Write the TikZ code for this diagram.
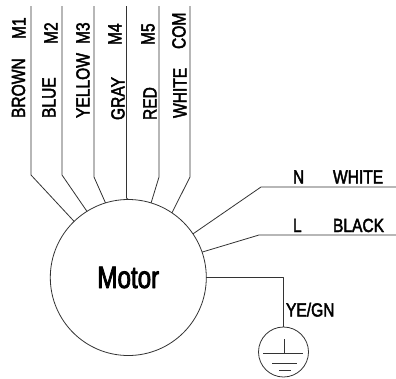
\documentclass[tikz,border=0pt]{standalone}
\usepackage{fontspec}
\setmainfont{Liberation Sans}
\newfontfamily\lblfont[FakeStretch=0.82,FakeBold=2.2]{Liberation Sans}
\newfontfamily\mtrfont[FakeStretch=0.78,FakeBold=2.5]{Liberation Sans}
\tikzset{
  wire/.style={draw=black!80,line width=0.8pt,line join=round},
  lbl/.style={inner sep=0pt,outer sep=0pt,font=\lblfont\fontsize{19}{19}\selectfont,text=black},
  vlbl/.style={lbl,rotate=90,anchor=base west},
  hlbl/.style={lbl,anchor=base west},
  motorbody/.style={circle,wire,inner sep=0pt,outer sep=0pt,minimum size=156pt,font=\mtrfont\fontsize{31}{31}\selectfont},
  earthbody/.style={circle,wire,inner sep=0pt,outer sep=0pt,minimum size=50pt}
}
\begin{document}
\begin{tikzpicture}[x=1pt,y=-1pt]
\useasboundingbox[fill=white] (0,0) rectangle (396,378);
\node[motorbody] (motor) at (128.3,277.5) {Motor};
\node[earthbody] (earth) at (283.5,352) {};
% top wires
\coordinate (t1) at (31,6);   \coordinate (k1) at (31,175);
\coordinate (t2) at (62,6);   \coordinate (k2) at (62,175);
\coordinate (t3) at (94,6);   \coordinate (k3) at (94,177);
\coordinate (t4) at (126.5,6);\coordinate (k4) at (126.5,198);
\coordinate (t5) at (159,6);  \coordinate (k5) at (159,177);
\coordinate (t6) at (190,6);  \coordinate (k6) at (190,177);
\draw[wire] (t1) -- (k1) -- (motor.134);
\draw[wire] (t2) -- (k2) -- (motor.122);
\draw[wire] (t3) -- (k3) -- (motor.107);
\draw[wire] (t4) -- (k4) -- (motor.90);
\draw[wire] (t5) -- (k5) -- (motor.73);
\draw[wire] (t6) -- (k6) -- (motor.56);
% right wires
\coordinate (nk) at (261,187); \coordinate (ne) at (396,187);
\coordinate (lk) at (259,235); \coordinate (le) at (396,235);
\draw[wire] (motor.34) -- (nk) -- (ne);
\draw[wire] (motor.19) -- (lk) -- (le);
\draw[wire] (motor.0) -| (earth.north);
% earth symbol
\coordinate (e0) at (284,339); \coordinate (e1) at (284,353);
\coordinate (a1) at (263,353); \coordinate (a2) at (303,353);
\coordinate (b1) at (272,363.5); \coordinate (b2) at (297,363.5);
\coordinate (c1) at (279,370); \coordinate (c2) at (291,370);
\draw[wire] (e0) -- (e1);
\draw[wire] (a1) -- (a2);
\draw[wire] (b1) -- (b2);
\draw[wire] (c1) -- (c2);
% vertical labels
\node[vlbl] (lbrown) at (25,118) {BROWN};
\node[vlbl] (lm1) at (25.5,39) {M1};
\node[vlbl] (lblue) at (55.5,118) {BLUE};
\node[vlbl] (lm2) at (57.5,44) {M2};
\node[vlbl] (lyellow) at (89.5,118) {YELLOW};
\node[vlbl] (lm3) at (89.5,44) {M3};
\node[vlbl] (lgray) at (124.5,120) {GRAY};
\node[vlbl] (lm4) at (121.5,45) {M4};
\node[vlbl] (lred) at (156.5,120) {RED};
\node[vlbl] (lm5) at (154.5,45) {M5};
\node[vlbl] (lwhite) at (186.5,118) {WHITE};
\node[vlbl] (lcom) at (185.5,49) {COM};
% horizontal labels
\node[hlbl] (ln) at (293,183.5) {N};
\node[hlbl] (lnw) at (333,183.5) {WHITE};
\node[hlbl] (ll) at (293,232) {L};
\node[hlbl] (llb) at (333,232) {BLACK};
\node[hlbl] (lye) at (286,316.5) {YE/GN};
\end{tikzpicture}
\end{document}
